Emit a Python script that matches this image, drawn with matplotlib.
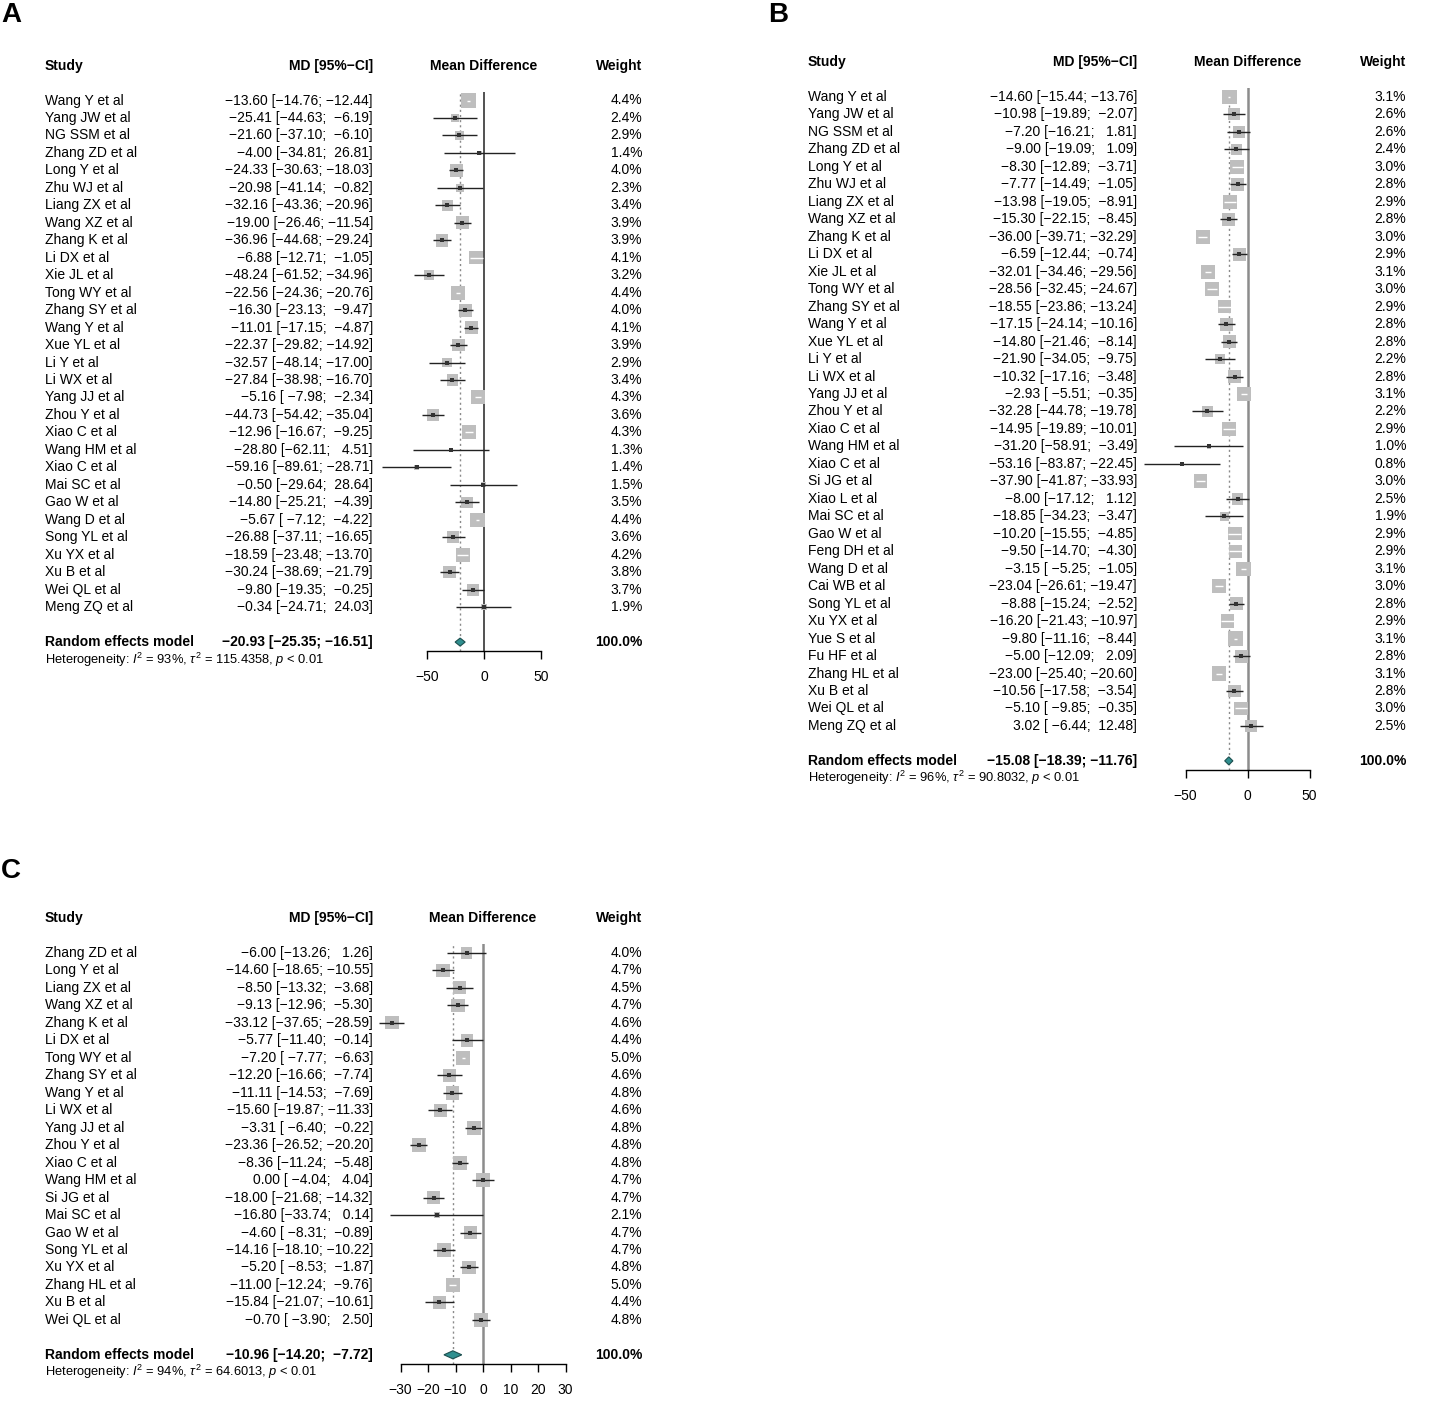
import matplotlib
matplotlib.use("Agg")
import matplotlib.pyplot as plt
import matplotlib.transforms as mtransforms
from matplotlib.patches import Polygon

plt.rcParams['font.family'] = ['Liberation Sans', 'DejaVu Sans']
plt.rcParams['mathtext.fontset'] = 'custom'
plt.rcParams['mathtext.rm'] = 'Liberation Sans'
plt.rcParams['mathtext.it'] = 'Liberation Sans:italic'
plt.rcParams['mathtext.bf'] = 'Liberation Sans:bold'

# ---------------- Panel A data ----------------
studies_a = ["Wang Y et al", "Yang JW et al", "NG SSM et al", "Zhang ZD et al", "Long Y et al",
             "Zhu WJ et al", "Liang ZX et al", "Wang XZ et al", "Zhang K et al", "Li DX et al",
             "Xie JL et al", "Tong WY et al", "Zhang SY et al", "Wang Y et al", "Xue YL et al",
             "Li Y et al", "Li WX et al", "Yang JJ et al", "Zhou Y et al", "Xiao C et al",
             "Wang HM et al", "Xiao C et al", "Mai SC et al", "Gao W et al", "Wang D et al",
             "Song YL et al", "Xu YX et al", "Xu B et al", "Wei QL et al", "Meng ZQ et al"]
md_a = [-13.60, -25.41, -21.60, -4.00, -24.33, -20.98, -32.16, -19.00, -36.96, -6.88,
        -48.24, -22.56, -16.30, -11.01, -22.37, -32.57, -27.84, -5.16, -44.73, -12.96,
        -28.80, -59.16, -0.50, -14.80, -5.67, -26.88, -18.59, -30.24, -9.80, -0.34]
lo_a = [-14.76, -44.63, -37.10, -34.81, -30.63, -41.14, -43.36, -26.46, -44.68, -12.71,
        -61.52, -24.36, -23.13, -17.15, -29.82, -48.14, -38.98, -7.98, -54.42, -16.67,
        -62.11, -89.61, -29.64, -25.21, -7.12, -37.11, -23.48, -38.69, -19.35, -24.71]
hi_a = [-12.44, -6.19, -6.10, 26.81, -18.03, -0.82, -20.96, -11.54, -29.24, -1.05,
        -34.96, -20.76, -9.47, -4.87, -14.92, -17.00, -16.70, -2.34, -35.04, -9.25,
        4.51, -28.71, 28.64, -4.39, -4.22, -16.65, -13.70, -21.79, -0.25, 24.03]
w_a = [4.4, 2.4, 2.9, 1.4, 4.0, 2.3, 3.4, 3.9, 3.9, 4.1, 3.2, 4.4, 4.0, 4.1, 3.9,
       2.9, 3.4, 4.3, 3.6, 4.3, 1.3, 1.4, 1.5, 3.5, 4.4, 3.6, 4.2, 3.8, 3.7, 1.9]
summary_a = (-20.93, -25.35, -16.51)
het_a = ("93%", "115.4358", "0.01")
ticks_a = [-50, 0, 50]

# ---------------- Panel B data ----------------
studies_b = ["Wang Y et al", "Yang JW et al", "NG SSM et al", "Zhang ZD et al", "Long Y et al",
             "Zhu WJ et al", "Liang ZX et al", "Wang XZ et al", "Zhang K et al", "Li DX et al",
             "Xie JL et al", "Tong WY et al", "Zhang SY et al", "Wang Y et al", "Xue YL et al",
             "Li Y et al", "Li WX et al", "Yang JJ et al", "Zhou Y et al", "Xiao C et al",
             "Wang HM et al", "Xiao C et al", "Si JG et al", "Xiao L et al", "Mai SC et al",
             "Gao W et al", "Feng DH et al", "Wang D et al", "Cai WB et al", "Song YL et al",
             "Xu YX et al", "Yue S et al", "Fu HF et al", "Zhang HL et al", "Xu B et al",
             "Wei QL et al", "Meng ZQ et al"]
md_b = [-14.60, -10.98, -7.20, -9.00, -8.30, -7.77, -13.98, -15.30, -36.00, -6.59,
        -32.01, -28.56, -18.55, -17.15, -14.80, -21.90, -10.32, -2.93, -32.28, -14.95,
        -31.20, -53.16, -37.90, -8.00, -18.85, -10.20, -9.50, -3.15, -23.04, -8.88,
        -16.20, -9.80, -5.00, -23.00, -10.56, -5.10, 3.02]
lo_b = [-15.44, -19.89, -16.21, -19.09, -12.89, -14.49, -19.05, -22.15, -39.71, -12.44,
        -34.46, -32.45, -23.86, -24.14, -21.46, -34.05, -17.16, -5.51, -44.78, -19.89,
        -58.91, -83.87, -41.87, -17.12, -34.23, -15.55, -14.70, -5.25, -26.61, -15.24,
        -21.43, -11.16, -12.09, -25.40, -17.58, -9.85, -6.44]
hi_b = [-13.76, -2.07, 1.81, 1.09, -3.71, -1.05, -8.91, -8.45, -32.29, -0.74,
        -29.56, -24.67, -13.24, -10.16, -8.14, -9.75, -3.48, -0.35, -19.78, -10.01,
        -3.49, -22.45, -33.93, 1.12, -3.47, -4.85, -4.30, -1.05, -19.47, -2.52,
        -10.97, -8.44, 2.09, -20.60, -3.54, -0.35, 12.48]
w_b = [3.1, 2.6, 2.6, 2.4, 3.0, 2.8, 2.9, 2.8, 3.0, 2.9, 3.1, 3.0, 2.9, 2.8, 2.8,
       2.2, 2.8, 3.1, 2.2, 2.9, 1.0, 0.8, 3.0, 2.5, 1.9, 2.9, 2.9, 3.1, 3.0, 2.8,
       2.9, 3.1, 2.8, 3.1, 2.8, 3.0, 2.5]
summary_b = (-15.08, -18.39, -11.76)
het_b = ("96%", "90.8032", "0.01")
ticks_b = [-50, 0, 50]

# ---------------- Panel C data ----------------
studies_c = ["Zhang ZD et al", "Long Y et al", "Liang ZX et al", "Wang XZ et al", "Zhang K et al",
             "Li DX et al", "Tong WY et al", "Zhang SY et al", "Wang Y et al", "Li WX et al",
             "Yang JJ et al", "Zhou Y et al", "Xiao C et al", "Wang HM et al", "Si JG et al",
             "Mai SC et al", "Gao W et al", "Song YL et al", "Xu YX et al", "Zhang HL et al",
             "Xu B et al", "Wei QL et al"]
md_c = [-6.00, -14.60, -8.50, -9.13, -33.12, -5.77, -7.20, -12.20, -11.11, -15.60,
        -3.31, -23.36, -8.36, 0.00, -18.00, -16.80, -4.60, -14.16, -5.20, -11.00,
        -15.84, -0.70]
lo_c = [-13.26, -18.65, -13.32, -12.96, -37.65, -11.40, -7.77, -16.66, -14.53, -19.87,
        -6.40, -26.52, -11.24, -4.04, -21.68, -33.74, -8.31, -18.10, -8.53, -12.24,
        -21.07, -3.90]
hi_c = [1.26, -10.55, -3.68, -5.30, -28.59, -0.14, -6.63, -7.74, -7.69, -11.33,
        -0.22, -20.20, -5.48, 4.04, -14.32, 0.14, -0.89, -10.22, -1.87, -9.76,
        -10.61, 2.50]
w_c = [4.0, 4.7, 4.5, 4.7, 4.6, 4.4, 5.0, 4.6, 4.8, 4.6, 4.8, 4.8, 4.8, 4.7, 4.7,
       2.1, 4.7, 4.7, 4.8, 5.0, 4.4, 4.8]
summary_c = (-10.96, -14.20, -7.72)
het_c = ("94%", "64.6013", "0.01")
ticks_c = [-30, -20, -10, 0, 10, 20, 30]

# ---------------- Layout ----------------
W, H = 1443, 1403
DPI = 100
ROW = 17.47
FS = 10
FS_HET = 9.3

fig = plt.figure(figsize=(W / DPI, H / DPI), dpi=DPI)
fig.patch.set_facecolor('white')


def fmt(v):
    return f"{v:.2f}".replace('-', '\u2212')


def forest(studies, md, lo, hi, w, summ, het, ticks, y0, zero_px, ppu, xlim,
           study_x, md_right, weight_right, zero_col, zero_lw):
    n = len(studies)
    top = y0 - 0.5 * ROW
    bottom = y0 + (n + 1.5) * ROW
    left = zero_px + xlim[0] * ppu
    right = zero_px + xlim[1] * ppu
    ax = fig.add_axes([left / W, 1 - bottom / H, (right - left) / W, (bottom - top) / H])
    ax.set_xlim(*xlim)
    ax.set_ylim(n + 1.5, -0.5)
    ax.patch.set_visible(False)
    for s in ('top', 'left', 'right'):
        ax.spines[s].set_visible(False)
    ax.spines['bottom'].set_bounds(ticks[0], ticks[-1])
    ax.spines['bottom'].set_linewidth(1.0)
    ax.set_yticks([])
    ax.set_xticks(ticks)
    ax.tick_params(axis='x', direction='out', length=5.5, width=1.0, pad=8.5,
                   labelsize=FS)

    ax.axvline(0, color=zero_col, lw=zero_lw, zorder=1)
    ax.axvline(summ[0], color='#8a8a8a', lw=1.0, ls=(0, (1.5, 2.2)), zorder=1)

    wmax = max(w)
    for i in range(n):
        side_px = 0.82 * ROW * w[i] / wmax
        half_units = side_px / 2.0 / ppu
        side_pt = side_px * 72.0 / DPI
        inside = (md[i] - lo[i] <= half_units) and (hi[i] - md[i] <= half_units)
        ax.scatter([md[i]], [i], marker='s', s=side_pt ** 2, color='#bebebe',
                   edgecolors='none', zorder=2)
        lc = 'white' if inside else '#222222'
        ax.plot([lo[i], hi[i]], [i, i], color=lc, lw=1.0, zorder=3,
                solid_capstyle='butt')
        if not inside:
            ax.scatter([md[i]], [i], marker='s', s=(4.0 * 72 / DPI) ** 2,
                       color='#333333', edgecolors='none', zorder=4)

    ys = n + 1
    hh = 0.23
    diamond = Polygon([(summ[1], ys), (summ[0], ys - hh), (summ[2], ys), (summ[0], ys + hh)],
                      closed=True, facecolor='#2f8f8f', edgecolor='#1d4f4f', lw=0.8, zorder=5)
    ax.add_patch(diamond)

    tr = mtransforms.blended_transform_factory(fig.transFigure, ax.transData)

    # headers
    hy = -2
    ax.text(study_x / W, hy, "Study", transform=tr, ha='left', va='center',
            fontsize=FS, fontweight='bold')
    ax.text(md_right / W, hy, "MD [95%\u2212CI]", transform=tr, ha='right', va='center',
            fontsize=FS, fontweight='bold')
    ax.text(zero_px / W, hy, "Mean Difference", transform=tr, ha='center', va='center',
            fontsize=FS, fontweight='bold')
    ax.text(weight_right / W, hy, "Weight", transform=tr, ha='right', va='center',
            fontsize=FS, fontweight='bold')

    lo_s = [fmt(v) for v in lo] + [fmt(summ[1])]
    hi_s = [fmt(v) for v in hi] + [fmt(summ[2])]
    wl = max(len(s) for s in lo_s)
    wh = max(len(s) for s in hi_s)

    for i in range(n):
        ax.text(study_x / W, i, studies[i], transform=tr, ha='left', va='center', fontsize=FS)
        txt = f"{fmt(md[i])} [{lo_s[i]:>{wl}}; {hi_s[i]:>{wh}}]"
        ax.text(md_right / W, i, txt, transform=tr, ha='right', va='center', fontsize=FS)
        ax.text(weight_right / W, i, f"{w[i]:.1f}%", transform=tr, ha='right',
                va='center', fontsize=FS)

    txt = f"{fmt(summ[0])} [{lo_s[-1]:>{wl}}; {hi_s[-1]:>{wh}}]"
    ax.text(study_x / W, ys, "Random effects model", transform=tr, ha='left', va='center',
            fontsize=FS, fontweight='bold')
    ax.text(md_right / W, ys, txt, transform=tr, ha='right', va='center',
            fontsize=FS, fontweight='bold')
    ax.text(weight_right / W, ys, "100.0%", transform=tr, ha='right', va='center',
            fontsize=FS, fontweight='bold')
    het_txt = (r"Heterogeneity: $I^2$ = " + het[0] + r", $\tau^2$ = " + het[1]
               + r", $p$ < " + het[2])
    ax.text(study_x / W, ys + 1, het_txt, transform=tr, ha='left', va='center',
            fontsize=FS_HET)
    return ax


forest(studies_a, md_a, lo_a, hi_a, w_a, summary_a, het_a, ticks_a,
       y0=100.5, zero_px=484, ppu=1.14, xlim=(-100, 60),
       study_x=45, md_right=373, weight_right=642, zero_col='#333333', zero_lw=1.2)
forest(studies_b, md_b, lo_b, hi_b, w_b, summary_b, het_b, ticks_b,
       y0=97, zero_px=1247.5, ppu=1.24, xlim=(-100, 60),
       study_x=808, md_right=1137, weight_right=1406, zero_col='#8c8c8c', zero_lw=1.8)
forest(studies_c, md_c, lo_c, hi_c, w_c, summary_c, het_c, ticks_c,
       y0=953, zero_px=483, ppu=2.75, xlim=(-40, 40),
       study_x=45, md_right=373, weight_right=642, zero_col='#8c8c8c', zero_lw=1.8)

for lab, x, y in (("A", 1, 15), ("B", 768, 15), ("C", 1, 871)):
    fig.text(x / W, 1 - y / H, lab, ha='left', va='center', fontsize=20, fontweight='bold')

fig.savefig("out.png", dpi=DPI, facecolor='white')
